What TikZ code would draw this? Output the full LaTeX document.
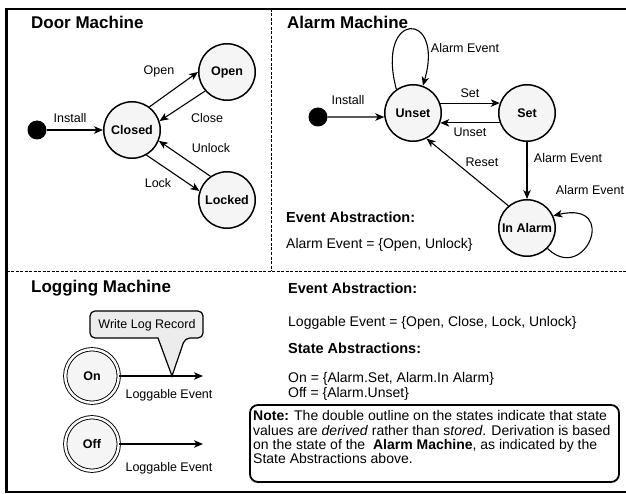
\documentclass[tikz,border=0pt]{standalone}
\usepackage{fontspec}
\setmainfont{Liberation Sans}
\usetikzlibrary{arrows.meta}
\newcommand{\fnLabel}{\fontsize{12.5}{14}\selectfont}
\newcommand{\fnBody}{\fontsize{14}{14.3}\selectfont}
\newcommand{\fnTitle}{\fontsize{17}{18}\selectfont\bfseries}
\newcommand{\fnHead}{\fontsize{14.5}{16}\selectfont\bfseries}
\tikzset{
	mstate/.style={circle,draw,line width=1.5pt,fill=gray!8,minimum size=56.5pt,inner sep=0pt,font=\fnLabel\bfseries},
	dstate/.style={circle,draw,line width=0.9pt,double=white,double distance=2.4pt,fill=gray!8,minimum size=53.5pt,inner sep=0pt,font=\fnLabel\bfseries},
	initdot/.style={circle,fill=black,minimum size=19pt,inner sep=0pt},
	trans/.style={-{Stealth[length=9pt,width=7.5pt,inset=2.5pt]},line width=1.1pt},
	elabel/.style={font=\fnLabel,inner sep=0pt},
	title/.style={font=\fnTitle,anchor=base west,inner sep=0pt},
	head/.style={font=\fnHead,anchor=base west,inner sep=0pt},
	body/.style={font=\fnBody,anchor=base west,inner sep=0pt},
}

\begin{document}
\begin{tikzpicture}[x=1pt,y=-1pt]
	\useasboundingbox (0,0) rectangle (626,494);
	% frame and dividers
	\draw[line width=2.5pt] (640,9) -- (6.5,9) -- (6.5,492) -- (640,492);
	\begin{scope}[dash pattern=on 3pt off 1.5pt,line width=0.8pt]
		\draw (271,9) -- (271,271);
		\draw (6.5,271) -- (640,271);
	\end{scope}
	
	% door machine
	\node[title] (doortitle) at (31,29) {Door Machine};
	\node[initdot] (dinit) at (37,130) {};
	\node[mstate] (closed) at (132,130) {Closed};
	\node[mstate] (open) at (227,72) {Open};
	\node[mstate] (locked) at (227,200) {Locked};
	\draw[trans] (dinit) -- (closed);
	\draw[trans] (closed.53) -- (open.180);
	\draw[trans] (open.221) -- (closed.18);
	\draw[trans] (locked.125) -- (closed.-22);
	\draw[trans] (closed.-60) -- (locked.162);
	\node[elabel] (dinstall) at (70,118) {Install};
	\node[elabel] (dopen) at (159,71) {Open};
	\node[elabel] (dclose) at (207,118) {Close};
	\node[elabel] (dunlock) at (211,148) {Unlock};
	\node[elabel] (dlock) at (158,183) {Lock};
	
	% alarm machine
	\node[title] (alarmtitle) at (287,29) {Alarm Machine};
	\node[initdot] (ainit) at (318,117) {};
	\node[mstate] (unset) at (413,113) {Unset};
	\node[mstate] (set) at (527,113) {Set};
	\node[mstate] (inalarm) at (527,228) {In Alarm};
	\draw[trans] (ainit) -- (unset.188);
	\draw[trans] (unset.20) -- (set.160);
	\draw[trans] (set.200) -- (unset.-20);
	\draw[trans] (set) -- (inalarm);
	\draw[trans] (inalarm.130) -- (unset.-62);
	\draw[trans] (unset.125) .. controls (375,10) and (445,10) .. (unset.70);
	\draw[trans] (inalarm.-45) .. controls (585,285) and (620,200) .. (inalarm.25);
	\node[elabel] (ainstall) at (348,100) {Install};
	\node[elabel] (aset) at (470,93) {Set};
	\node[elabel] (aunset) at (470,132) {Unset};
	\node[elabel] (areset) at (482,162) {Reset};
	\node[elabel] (aev1) at (465,48) {Alarm Event};
	\node[elabel] (aev2) at (568,158) {Alarm Event};
	\node[elabel] (aev3) at (590,190) {Alarm Event};
	\node[head] (aabs) at (286,223) {Event Abstraction:};
	\node[body] (aabsdef) at (286,248) {Alarm Event = \{Open, Unlock\}};
	
	% logging machine
	\node[title] (logtitle) at (31,292) {Logging Machine};
	\draw[line width=1.2pt,fill=gray!15] (90,324) [rounded corners=5pt] -- (90,311) -- (203,311) -- (203,338) -- (185,338) [sharp corners] -- (172,376) -- (158,338) [rounded corners=5pt] -- (90,338) -- cycle;
	\node[elabel] (logrec) at (147,325) {Write Log Record};
	\node[dstate] (on) at (92,376) {On};
	\node[dstate] (off) at (92,444) {Off};
	\coordinate (onend) at (203,376);
	\coordinate (offend) at (203,444);
	\draw[trans] (on) -- (onend);
	\draw[trans] (off) -- (offend);
	\node[elabel] (onev) at (169,395) {Loggable Event};
	\node[elabel] (offev) at (169,468) {Loggable Event};
	
	% abstractions
	\node[head] (labs) at (288,294) {Event Abstraction:};
	\node[body] (labsdef) at (288,326) {Loggable Event = \{Open, Close, Lock, Unlock\}};
	\node[head] (sabs) at (288,353) {State Abstractions:};
	\node[body] (sabson) at (288,382) {On = \{Alarm.Set, Alarm.In Alarm\}};
	\node[body] (sabsoff) at (288,397) {Off = \{Alarm.Unset\}};
	
	% note
	\draw[line width=1.8pt,rounded corners=8pt] (250,405) rectangle (619,482);
	\node[font=\fnBody,anchor=north west,align=left,inner sep=0pt] (notetext) at (253,410.5) {\textbf{Note:} The double outline on the states indicate that state\\values are \textit{derived} rather than s\textit{tored}. Derivation is based\\on the state of the~ \textbf{Alarm Machine}, as indicated by the\\State Abstractions above.};
\end{tikzpicture}
\end{document}
